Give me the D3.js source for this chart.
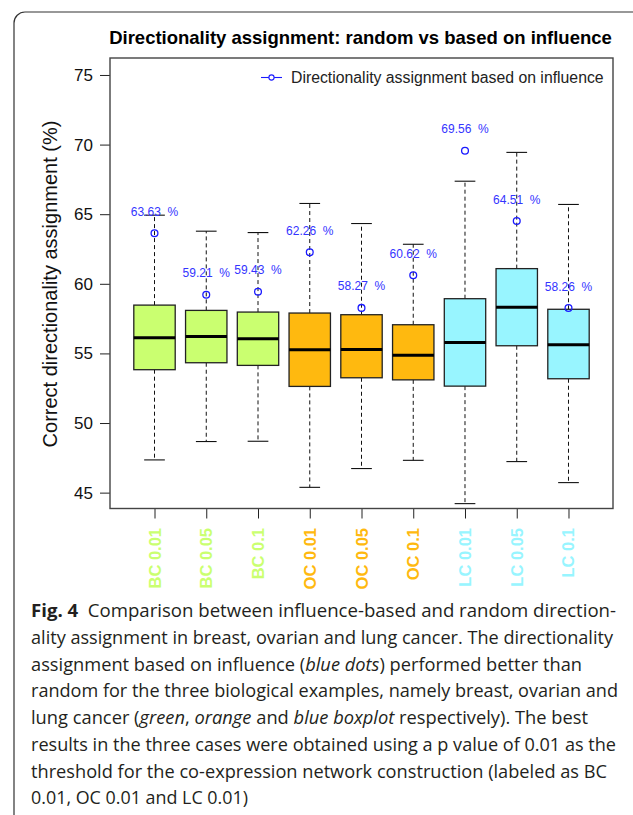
<!DOCTYPE html>
<html>
<head>
<meta charset="utf-8">
<style>
  body { margin: 0; background: #fff; }
  svg { display: block; }
</style>
</head>
<body>
<script src="https://d3js.org/d3.v7.min.js"></script>
<script>

  // box statistics (percent)
  var categories = ["BC 0.01", "BC 0.05", "BC 0.1", "OC 0.01", "OC 0.05", "OC 0.1", "LC 0.01", "LC 0.05", "LC 0.1"];
  var groupColors = ["#caff70", "#caff70", "#caff70", "#ffb90f", "#ffb90f", "#ffb90f", "#98f5ff", "#98f5ff", "#98f5ff"];
  var whiskerLow  = [47.35, 48.67, 48.69, 45.38, 46.73, 47.32, 44.21, 47.23, 45.72];
  var quartile1   = [53.83, 54.33, 54.14, 52.63, 53.25, 53.10, 52.65, 55.55, 53.18];
  var medians     = [56.13, 56.22, 56.06, 55.27, 55.29, 54.86, 55.79, 58.31, 55.63];
  var quartile3   = [58.47, 58.09, 57.97, 57.90, 57.78, 57.06, 58.93, 61.09, 58.17];
  var whiskerHigh = [64.93, 63.78, 63.68, 65.77, 64.33, 62.84, 67.37, 69.44, 65.70];
  var influence   = [63.63, 59.21, 59.43, 62.26, 58.27, 60.62, 69.56, 64.51, 58.26];
  var yTicks = [45, 50, 55, 60, 65, 70, 75];

  var width = 633, height = 815;
  var plot = {left: 110, right: 613, top: 58, bottom: 508.5};
  var font = "Liberation Sans, Arial, sans-serif";

  var svg = d3.select("body").append("svg")
      .attr("width", width)
      .attr("height", height);

  // outer figure frame
  svg.append("rect")
      .attr("x", 14).attr("y", 12)
      .attr("width", 640).attr("height", 830)
      .attr("rx", 11)
      .attr("fill", "none")
      .attr("stroke", "#333")
      .attr("stroke-width", 1.2);

  var x = d3.scaleLinear().domain([0.14, 9.86]).range([plot.left, plot.right]);
  var y = d3.scaleLinear().domain([43.86, 76.22]).range([plot.bottom, plot.top]);

  var boxes = categories.map(function (c, i) {
    return {
      name: c, pos: i + 1, color: groupColors[i],
      lo: whiskerLow[i], q1: quartile1[i], med: medians[i],
      q3: quartile3[i], hi: whiskerHigh[i], inf: influence[i]
    };
  });

  var halfBox = 0.4, halfCap = 0.2;

  // title
  svg.append("text")
      .attr("x", 360.5).attr("y", 44)
      .attr("text-anchor", "middle")
      .style("font-family", font)
      .style("font-weight", "bold")
      .style("font-size", "18.5px")
      .text("Directionality assignment: random vs based on influence");

  // y axis
  var yAxis = d3.axisLeft(y).tickValues(yTicks).tickSize(10).tickPadding(7);
  var gy = svg.append("g")
      .attr("transform", "translate(" + plot.left + ",0)")
      .call(yAxis);
  gy.select(".domain").remove();
  gy.selectAll("line").attr("stroke", "#222");
  gy.selectAll("text")
      .style("font-family", font)
      .style("font-size", "17px")
      .attr("fill", "#111");

  // x axis
  var xAxis = d3.axisBottom(x).tickValues(boxes.map(function (d) { return d.pos; }))
      .tickSize(10).tickFormat("");
  var gx = svg.append("g")
      .attr("transform", "translate(0," + plot.bottom + ")")
      .call(xAxis);
  gx.select(".domain").remove();
  gx.selectAll("line").attr("stroke", "#222");

  svg.selectAll(".xlab")
      .data(boxes)
      .enter().append("text")
      .attr("class", "xlab")
      .attr("transform", function (d) { return "translate(" + (x(d.pos) + 6) + "," + 528 + ") rotate(-90)"; })
      .attr("text-anchor", "end")
      .style("font-family", font)
      .style("font-weight", "bold")
      .style("font-size", "16.5px")
      .attr("fill", function (d) { return d.color; })
      .text(function (d) { return d.name; });

  // y title
  svg.append("text")
      .attr("transform", "translate(57,284) rotate(-90)")
      .attr("text-anchor", "middle")
      .style("font-family", font)
      .style("font-size", "20px")
      .attr("fill", "#111")
      .text("Correct directionality assignment (%)");

  // boxplots
  var g = svg.selectAll(".box")
      .data(boxes)
      .enter().append("g")
      .attr("class", "box");

  g.append("line")
      .attr("x1", function (d) { return x(d.pos); })
      .attr("x2", function (d) { return x(d.pos); })
      .attr("y1", function (d) { return y(d.q3); })
      .attr("y2", function (d) { return y(d.hi); })
      .attr("stroke", "#111").attr("stroke-dasharray", "4,3");

  g.append("line")
      .attr("x1", function (d) { return x(d.pos); })
      .attr("x2", function (d) { return x(d.pos); })
      .attr("y1", function (d) { return y(d.q1); })
      .attr("y2", function (d) { return y(d.lo); })
      .attr("stroke", "#111").attr("stroke-dasharray", "4,3");

  ["hi", "lo"].forEach(function (k) {
    g.append("line")
        .attr("x1", function (d) { return x(d.pos - halfCap); })
        .attr("x2", function (d) { return x(d.pos + halfCap); })
        .attr("y1", function (d) { return y(d[k]); })
        .attr("y2", function (d) { return y(d[k]); })
        .attr("stroke", "#111").attr("stroke-width", 1.1);
  });

  g.append("rect")
      .attr("x", function (d) { return x(d.pos - halfBox); })
      .attr("width", function (d) { return x(d.pos + halfBox) - x(d.pos - halfBox); })
      .attr("y", function (d) { return y(d.q3); })
      .attr("height", function (d) { return y(d.q1) - y(d.q3); })
      .attr("fill", function (d) { return d.color; })
      .attr("stroke", "#222").attr("stroke-width", 1.3);

  g.append("line")
      .attr("x1", function (d) { return x(d.pos - halfBox); })
      .attr("x2", function (d) { return x(d.pos + halfBox); })
      .attr("y1", function (d) { return y(d.med); })
      .attr("y2", function (d) { return y(d.med); })
      .attr("stroke", "#000").attr("stroke-width", 3);

  // influence-based points and labels
  g.append("circle")
      .attr("cx", function (d) { return x(d.pos); })
      .attr("cy", function (d) { return y(d.inf); })
      .attr("r", 3.4)
      .attr("fill", "none")
      .attr("stroke", "#1a1aff").attr("stroke-width", 1.3);

  g.append("text")
      .attr("x", function (d) { return x(d.pos); })
      .attr("y", function (d) { return y(d.inf) - 17.5; })
      .attr("text-anchor", "middle")
      .style("font-family", font)
      .style("font-size", "12px")
      .style("white-space", "pre")
      .attr("fill", "#3434ff")
      .text(function (d) { return d.inf.toFixed(2) + "  %"; });

  // plot frame
  svg.append("rect")
      .attr("x", plot.left).attr("y", plot.top)
      .attr("width", plot.right - plot.left)
      .attr("height", plot.bottom - plot.top)
      .attr("fill", "none")
      .attr("stroke", "#444").attr("stroke-width", 1.4);

  // legend
  var lg = svg.append("g");
  lg.append("line")
      .attr("x1", 261).attr("x2", 282).attr("y1", 77.5).attr("y2", 77.5)
      .attr("stroke", "#1a1aff").attr("stroke-width", 1.1);
  lg.append("circle")
      .attr("cx", 271.5).attr("cy", 77.5).attr("r", 2.6)
      .attr("fill", "#fff").attr("stroke", "#1a1aff").attr("stroke-width", 1.1);
  lg.append("text")
      .attr("x", 291).attr("y", 82.5)
      .style("font-family", font)
      .style("font-size", "15.8px")
      .attr("fill", "#222")
      .text("Directionality assignment based on influence");

  // caption
  var captionLines = [
    [["b", "Fig. 4"], ["n", "  Comparison between influence-based and random direction-"]],
    [["n", "ality assignment in breast, ovarian and lung cancer. The directionality"]],
    [["n", "assignment based on influence ("], ["i", "blue dots"], ["n", ") performed better than"]],
    [["n", "random for the three biological examples, namely breast, ovarian and"]],
    [["n", "lung cancer ("], ["i", "green"], ["n", ", "], ["i", "orange"], ["n", " and "], ["i", "blue boxplot"], ["n", " respectively). The best"]],
    [["n", "results in the three cases were obtained using a p value of 0.01 as the"]],
    [["n", "threshold for the co-expression network construction (labeled as BC"]],
    [["n", "0.01, OC 0.01 and LC 0.01)"]]
  ];
  var captionWidths = [585, 582, 551, 587, 557, 585, 576, 217];

  captionLines.forEach(function (line, i) {
    var t = svg.append("text")
        .attr("x", 31).attr("y", 617.3 + i * 26.7)
        .attr("textLength", captionWidths[i])
        .attr("lengthAdjust", "spacingAndGlyphs")
        .style("font-family", "Open Sans, Noto Sans, sans-serif")
        .style("font-size", "18.5px")
        .style("white-space", "pre")
        .attr("fill", "#231f20");
    line.forEach(function (part) {
      t.append("tspan")
          .style("font-weight", part[0] === "b" ? "bold" : "normal")
          .style("font-style", part[0] === "i" ? "italic" : "normal")
          .text(part[1]);
    });
  });

</script>
</body>
</html>
